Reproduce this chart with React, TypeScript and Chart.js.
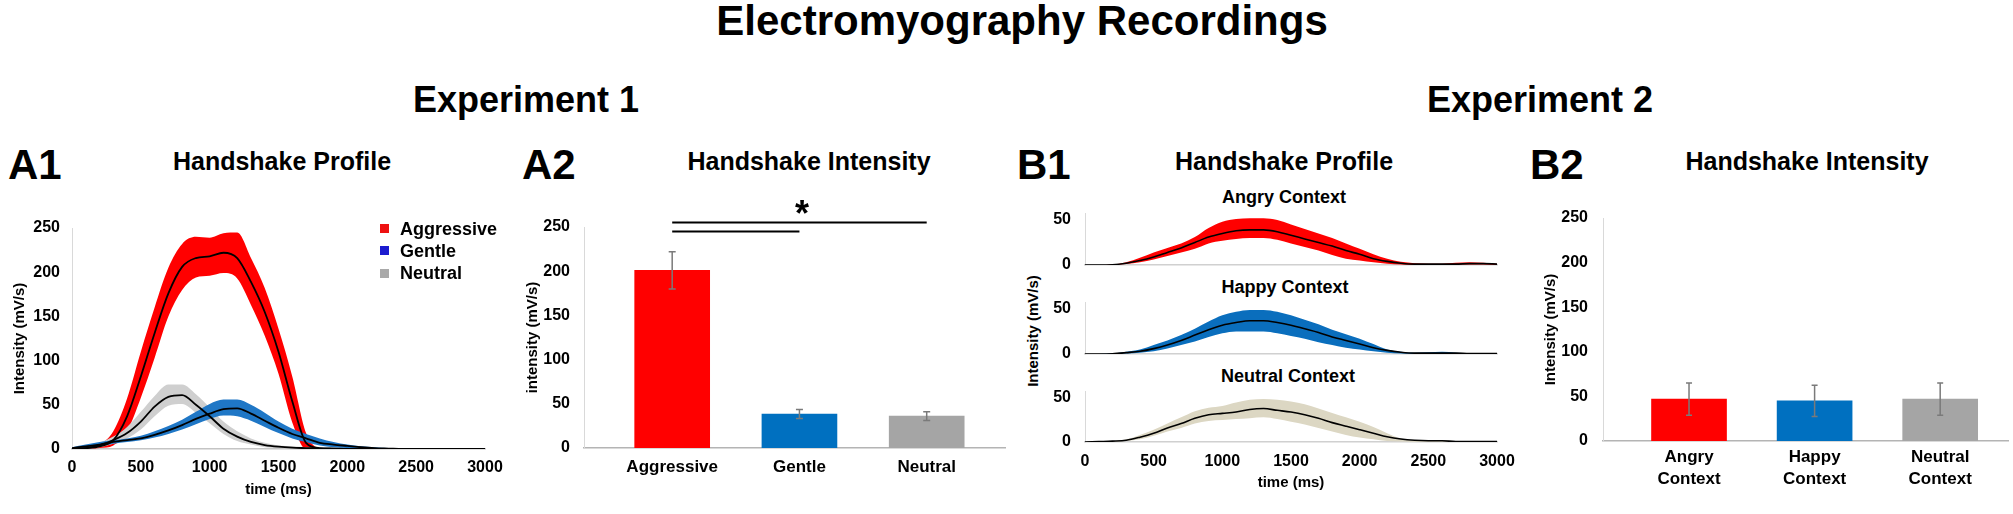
import React, { useEffect, useRef } from 'react';
import { Chart, registerables } from 'chart.js';

Chart.register(...registerables);

const FONT = '"Liberation Sans", Arial, Helvetica, sans-serif';
Chart.defaults.font.family = FONT;
Chart.defaults.color = '#000';

// ---------- DATA ----------
const TIME = [0, 100, 200, 300, 400, 500, 600, 700, 800, 900, 1000, 1100, 1200, 1300, 1400, 1500, 1600, 1700, 1800, 1900, 2000, 2100, 2200, 2300, 2400, 2500, 2600, 2700, 2800, 2900, 3000];
const TIME_TICKS = [0, 500, 1000, 1500, 2000, 2500, 3000];

// A1 – Experiment 1 handshake profile
const AGG_MEAN = [0, 1, 3, 10, 37, 82, 131, 176, 206, 216, 218, 222, 216, 189, 155, 110, 54, 7, 1, 0.5, 0, 0, 0, 0, 0, 0, 0, 0, 0, 0, 0];
const AGG_LOWER = [0, 0, 1, 4, 20, 58, 103, 150, 180, 194, 196, 199, 193, 163, 128, 85, 30, 0, 0, 0, 0, 0, 0, 0, 0, 0, 0, 0, 0, 0, 0];
const AGG_UPPER = [0, 2, 5, 20, 57, 110, 160, 205, 232, 240, 239, 244, 245, 216, 182, 136, 82, 18, 1, 0.5, 0, 0, 0, 0, 0, 0, 0, 0, 0, 0, 0];
const GEN_MEAN = [1, 3, 5, 8, 10, 12, 16, 21, 27, 34, 40, 45, 46, 40, 32, 24, 17, 12, 7, 5, 3.5, 2, 1, 0.5, 0, 0, 0, 0, 0, 0, 0];
const GEN_LOWER = [0, 1, 3, 6, 8, 10, 13, 17, 22, 28, 34, 38, 37, 32, 25, 18, 12, 8, 4, 2, 1, 0, 0, 0, 0, 0, 0, 0, 0, 0, 0];
const GEN_UPPER = [2, 5, 8, 10, 12, 15, 20, 26, 33, 42, 51, 56, 56, 50, 41, 31, 23, 17, 12, 8, 5, 3, 2, 1, 0, 0, 0, 0, 0, 0, 0];
const NEU_MEAN = [0, 1, 4, 10, 18, 31, 48, 59, 61, 50, 37, 23, 14, 8, 4.5, 2.6, 1.5, 1, 0.5, 0.3, 0, 0, 0, 0, 0, 0, 0, 0, 0, 0, 0];
const NEU_LOWER = [0, 0, 2, 6, 12, 22, 37, 49, 51, 41, 29, 17, 9, 5, 2, 1, 0, 0, 0, 0, 0, 0, 0, 0, 0, 0, 0, 0, 0, 0, 0];
const NEU_UPPER = [0, 2, 7, 14, 25, 42, 60, 73, 73, 62, 47, 31, 20, 12, 7, 4, 3, 2, 1, 0, 0, 0, 0, 0, 0, 0, 0, 0, 0, 0, 0];
const A1_LEGEND = ['Aggressive', 'Gentle', 'Neutral'];
const A1_LEGEND_COLORS = ['#ee1111', '#1c1ccf', '#a9a9a9'];

// A2 – Experiment 1 handshake intensity
const A2_CATEGORIES = ['Aggressive', 'Gentle', 'Neutral'];
const A2_VALUES = [201, 38.5, 36];
const A2_ERRORS = [21, 5, 5];
const A2_COLORS = ['#ff0000', '#0070c0', '#a5a5a5'];
const A2_SIG_PAIRS: [number, number, number][] = [[1, 3, 255], [1, 2, 245]];
const A2_STAR = { x: 2.02, y: 271.5, text: '*' };

// B1 – Experiment 2 handshake profile
const ANGRY_MEAN = [0, 0, 0.3, 2, 5, 9, 14, 19, 25, 31, 35, 38, 39, 39, 37, 33, 29, 25, 21, 16, 12, 7, 4, 2, 1, 1, 1, 1, 1.5, 1.5, 1];
const ANGRY_LOWER = [0, 0, 0, 1, 3, 6, 10, 14, 18, 24, 27, 29, 30, 30, 28, 24, 20, 16, 11, 7, 5, 3, 1.5, 0.5, 0, 0, 0, 0.5, 0.5, 0.5, 0];
const ANGRY_UPPER = [0, 0, 0.5, 3, 8, 14, 19, 24, 31, 41, 48, 51, 52, 52, 50, 45, 40, 35, 30, 24, 18, 12, 7, 3.5, 2, 1.5, 1.5, 2.5, 3, 2.5, 1.5];
const HAPPY_MEAN = [0, 0, 0.3, 1.5, 3, 6, 10, 15, 21, 27, 32, 35, 37, 37, 35, 32, 28, 24, 19, 15, 11, 7, 4, 2, 1, 1, 1, 1, 0.5, 0.5, 0.5];
const HAPPY_LOWER = [0, 0, 0, 0.5, 1.5, 3, 6, 10, 14, 19, 23, 25, 25, 25, 23, 20, 17, 13, 10, 7, 5, 3, 1.5, 0.5, 0, 0, 0, 0, 0, 0, 0];
const HAPPY_UPPER = [0, 0, 0.5, 2.5, 5, 10, 15, 21, 28, 36, 43, 47, 49, 49, 47, 43, 38, 33, 27, 22, 17, 11, 5, 2.5, 1.5, 2, 2.5, 1.5, 1, 1, 1];
const NEUTRAL_MEAN = [0, 0.5, 1, 2, 5.5, 10, 16, 21, 27, 31, 32.5, 34, 37, 38, 36, 34, 31, 27, 22, 18, 14, 10, 6, 3.4, 2, 1.5, 1.5, 0.5, 0.5, 0.5, 0.5];
const NEUTRAL_LOWER = [0, 0, 0, 1, 3, 7, 12, 16, 21, 24, 25, 26, 27, 28, 26, 23, 20, 16, 12, 8, 5, 3, 1, 0.5, 0, 0, 0, 0, 0, 0, 0];
const NEUTRAL_UPPER = [0, 1, 1, 3, 8, 14, 21, 28, 35, 39, 41, 45, 48, 49, 48, 46, 43, 38, 33, 28, 23, 17, 10, 4, 2, 2, 2, 1, 1, 1, 1];
const B1_TICKS = [0, 50];

// B2 – Experiment 2 handshake intensity
const B2_CATEGORIES = [['Angry', 'Context'], ['Happy', 'Context'], ['Neutral', 'Context']];
const B2_VALUES = [47, 45, 47];
const B2_ERRORS = [18, 17.5, 18];
const B2_COLORS = ['#ff0000', '#0070c0', '#a5a5a5'];

const INTENSITY_TICKS = [0, 50, 100, 150, 200, 250];

// ---------- helpers ----------
type Rect = { left: number; top: number; width: number; height: number };
type Area = { l: number; t: number; r: number; b: number };

const tickFont = { size: 16, weight: 'bold' as const, family: FONT };
const titleFont = { size: 15, weight: 'bold' as const, family: FONT };
const catFont = { size: 17, weight: 'bold' as const, family: FONT, lineHeight: 1.3 };

function geom(rect: Rect, area: Area) {
  return {
    padTop: area.t - rect.top,
    padRight: rect.left + rect.width - area.r,
    yWidth: area.l - rect.left,
    xHeight: rect.top + rect.height - area.b,
  };
}

const pts = (arr: number[]) => TIME.map((t, i) => ({ x: t, y: arr[i] }));

function bandSets(upper: number[], lower: number[], color: string, order: number) {
  return [
    { type: 'line', data: pts(upper), fill: '+1', backgroundColor: color, borderColor: 'rgba(0,0,0,0)', borderWidth: 0, pointRadius: 0, order, cubicInterpolationMode: 'monotone' },
    { type: 'line', data: pts(lower), fill: false, borderColor: 'rgba(0,0,0,0)', borderWidth: 0, pointRadius: 0, order, cubicInterpolationMode: 'monotone' },
  ];
}

function meanSet(mean: number[], width: number) {
  return { type: 'line', data: pts(mean), fill: false, borderColor: '#000', borderWidth: width, pointRadius: 0, order: 0, cubicInterpolationMode: 'monotone' };
}

function errorBarPlugin(values: number[], errors: number[], cap: number) {
  return {
    id: 'errorBars',
    afterDatasetsDraw(chart: any) {
      const { ctx, scales } = chart;
      const x = scales.x, y = scales.y;
      ctx.save();
      ctx.strokeStyle = '#7a7a7a';
      ctx.lineWidth = 1.5;
      values.forEach((v, i) => {
        const px = x.getPixelForValue(i + 1);
        const top = y.getPixelForValue(v + errors[i]);
        const bot = y.getPixelForValue(v - errors[i]);
        ctx.beginPath();
        ctx.moveTo(px, top); ctx.lineTo(px, bot);
        ctx.moveTo(px - cap, top); ctx.lineTo(px + cap, top);
        ctx.moveTo(px - cap, bot); ctx.lineTo(px + cap, bot);
        ctx.stroke();
      });
      ctx.restore();
    },
  };
}

const sigPlugin = {
  id: 'sig',
  afterDatasetsDraw(chart: any) {
    const { ctx, scales } = chart;
    const x = scales.x, y = scales.y;
    ctx.save();
    ctx.strokeStyle = '#000';
    ctx.lineWidth = 2;
    A2_SIG_PAIRS.forEach(([a, b, lvl]) => {
      const py = y.getPixelForValue(lvl);
      ctx.beginPath();
      ctx.moveTo(x.getPixelForValue(a), py);
      ctx.lineTo(x.getPixelForValue(b), py);
      ctx.stroke();
    });
    const size = 36;
    ctx.font = `bold ${size}px ${FONT}`;
    ctx.fillStyle = '#000';
    ctx.textAlign = 'center';
    ctx.textBaseline = 'middle';
    ctx.fillText(A2_STAR.text, x.getPixelForValue(A2_STAR.x), y.getPixelForValue(A2_STAR.y) + 0.22 * size);
    ctx.restore();
  },
};

function ChartCanvas({ rect, make }: { rect: Rect; make: () => any }) {
  const ref = useRef<HTMLCanvasElement | null>(null);
  useEffect(() => {
    const chart = new Chart(ref.current as HTMLCanvasElement, make());
    return () => chart.destroy();
  }, []);
  return (
    <canvas
      ref={ref}
      width={rect.width}
      height={rect.height}
      style={{ position: 'absolute', left: rect.left, top: rect.top, width: rect.width, height: rect.height }}
    />
  );
}

// ---------- chart configs ----------
const A1_RECT: Rect = { left: 0, top: 200, width: 520, height: 314 };
const A1_AREA: Area = { l: 72, t: 228, r: 485, b: 449 };

function makeA1() {
  const g = geom(A1_RECT, A1_AREA);
  return {
    type: 'line',
    data: {
      datasets: [
        meanSet(AGG_MEAN, 1.8),
        meanSet(GEN_MEAN, 1.8),
        meanSet(NEU_MEAN, 1.8),
        ...bandSets(GEN_UPPER, GEN_LOWER, '#1f77c6', 2),
        ...bandSets(NEU_UPPER, NEU_LOWER, '#cfcfcf', 3),
        ...bandSets(AGG_UPPER, AGG_LOWER, '#ff0000', 4),
      ],
    },
    options: {
      animation: false, responsive: false, maintainAspectRatio: false,
      layout: { padding: { top: g.padTop, right: g.padRight, left: 0, bottom: 0 } },
      plugins: { legend: { display: false }, tooltip: { enabled: false }, title: { display: false } },
      scales: {
        x: {
          type: 'linear', min: 0, max: 3000,
          afterBuildTicks: (ax: any) => { ax.ticks = TIME_TICKS.map((v) => ({ value: v })); },
          ticks: { font: tickFont, color: '#000', padding: 9, callback: (v: any) => String(v), maxRotation: 0 },
          grid: { display: false, drawTicks: false },
          border: { color: '#c4c4c4', width: 1.5 },
          title: { display: true, text: 'time (ms)', font: titleFont, color: '#000', padding: { top: 0, bottom: 15 } },
          afterFit: (s: any) => { s.height = g.xHeight; s.paddingLeft = 0; s.paddingRight = 0; },
        },
        y: {
          min: 0, max: 250,
          afterBuildTicks: (ax: any) => { ax.ticks = INTENSITY_TICKS.map((v) => ({ value: v })); },
          ticks: { font: tickFont, color: '#000', padding: 12 },
          grid: { display: false, drawTicks: false },
          border: { color: '#d9d9d9', width: 1 },
          title: { display: true, text: 'Intensity (mV/s)', font: titleFont, color: '#000', padding: { top: 11, bottom: 0 } },
          afterFit: (s: any) => { s.width = g.yWidth; s.paddingTop = 0; s.paddingBottom = 0; },
        },
      },
    },
  };
}

function makeBars(rect: Rect, area: Area, xMin: number, xMax: number, cats: any[], values: number[], errors: number[], colors: string[], yTitle: string, yTitlePad: number, yTickPad: number, catPad: number, cap: number, extra: any[]) {
  const g = geom(rect, area);
  return {
    type: 'bar',
    data: {
      datasets: [{
        data: values.map((v, i) => ({ x: i + 1, y: v })),
        backgroundColor: colors,
        borderWidth: 0,
        barThickness: 75,
      }],
    },
    options: {
      animation: false, responsive: false, maintainAspectRatio: false,
      layout: { padding: { top: g.padTop, right: g.padRight, left: 0, bottom: 0 } },
      plugins: { legend: { display: false }, tooltip: { enabled: false }, title: { display: false } },
      scales: {
        x: {
          type: 'linear', min: xMin, max: xMax, offset: false,
          afterBuildTicks: (ax: any) => { ax.ticks = cats.map((_, i) => ({ value: i + 1 })); },
          ticks: { font: catFont, color: '#000', padding: catPad, maxRotation: 0, autoSkip: false, callback: (v: any) => cats[Math.round(v) - 1] },
          grid: { display: false, drawTicks: false },
          border: { color: '#b4b4b4', width: 1.5 },
          afterFit: (s: any) => { s.height = g.xHeight; s.paddingLeft = 0; s.paddingRight = 0; },
        },
        y: {
          min: 0, max: 250,
          afterBuildTicks: (ax: any) => { ax.ticks = INTENSITY_TICKS.map((v) => ({ value: v })); },
          ticks: { font: tickFont, color: '#000', padding: yTickPad },
          grid: { display: false, drawTicks: false },
          border: { color: '#d9d9d9', width: 1 },
          title: { display: true, text: yTitle, font: titleFont, color: '#000', padding: { top: yTitlePad, bottom: 0 } },
          afterFit: (s: any) => { s.width = g.yWidth; s.paddingTop = 0; s.paddingBottom = 0; },
        },
      },
    },
    plugins: [errorBarPlugin(values, errors, cap), ...extra],
  };
}

const A2_RECT: Rect = { left: 500, top: 185, width: 525, height: 329 };
const A2_AREA: Area = { l: 584, t: 227, r: 1005.6, b: 448 };
const makeA2 = () => makeBars(A2_RECT, A2_AREA, 0.307, 3.62, A2_CATEGORIES, A2_VALUES, A2_ERRORS, A2_COLORS, 'intensity (mV/s)', 24, 14, 8, 3.5, [sigPlugin]);

const B2_RECT: Rect = { left: 1500, top: 185, width: 513, height: 329 };
const B2_AREA: Area = { l: 1603, t: 218, r: 2008, b: 441 };
const makeB2 = () => makeBars(B2_RECT, B2_AREA, 0.315, 3.54, B2_CATEGORIES, B2_VALUES, B2_ERRORS, B2_COLORS, 'Intensity (mV/s)', 42, 15, 5, 3, []);

function makeB1(rect: Rect, area: Area, upper: number[], lower: number[], mean: number[], color: string, showX: boolean) {
  const g = geom(rect, area);
  return {
    type: 'line',
    data: { datasets: [meanSet(mean, 1.6), ...bandSets(upper, lower, color, 2)] },
    options: {
      animation: false, responsive: false, maintainAspectRatio: false,
      layout: { padding: { top: g.padTop, right: g.padRight, left: 0, bottom: 0 } },
      plugins: { legend: { display: false }, tooltip: { enabled: false }, title: { display: false } },
      scales: {
        x: {
          type: 'linear', min: 0, max: 3000,
          afterBuildTicks: (ax: any) => { ax.ticks = TIME_TICKS.map((v) => ({ value: v })); },
          ticks: { display: showX, font: tickFont, color: '#000', padding: 10, callback: (v: any) => String(v), maxRotation: 0 },
          grid: { display: false, drawTicks: false },
          border: { color: '#d0d0d0', width: 1.5 },
          title: { display: showX, text: 'time (ms)', font: titleFont, color: '#000', padding: { top: 0, bottom: 22 } },
          afterFit: (s: any) => { s.height = g.xHeight; s.paddingLeft = 0; s.paddingRight = 0; },
        },
        y: {
          min: 0, max: 57,
          afterBuildTicks: (ax: any) => { ax.ticks = B1_TICKS.map((v) => ({ value: v })); },
          ticks: { font: tickFont, color: '#000', padding: 14 },
          grid: { display: false, drawTicks: false },
          border: { color: '#d9d9d9', width: 1 },
          afterFit: (s: any) => { s.width = g.yWidth; s.paddingTop = 0; s.paddingBottom = 0; },
        },
      },
    },
  };
}

const B1A_RECT: Rect = { left: 1000, top: 200, width: 520, height: 75 };
const B1A_AREA: Area = { l: 1085, t: 265 - 57 * 0.9, r: 1497, b: 265 };
const B1H_RECT: Rect = { left: 1000, top: 290, width: 520, height: 75 };
const B1H_AREA: Area = { l: 1085, t: 354 - 57 * 0.9, r: 1497, b: 354 };
const B1N_RECT: Rect = { left: 1000, top: 380, width: 520, height: 134 };
const B1N_AREA: Area = { l: 1085, t: 442 - 57 * 0.88, r: 1497, b: 442 };

// ---------- text ----------
function Txt({ x, y, size, children, align = 'center', rotate = 0 }: any) {
  const tx = align === 'center' ? '-50%' : '0';
  return (
    <div
      style={{
        position: 'absolute', left: x, top: y, fontSize: size, fontWeight: 'bold', lineHeight: 1,
        whiteSpace: 'nowrap', transform: `translate(${tx}, -50%)${rotate ? ` rotate(${rotate}deg)` : ''}`,
        transformOrigin: align === 'center' ? 'center' : 'left center',
      }}
    >
      {children}
    </div>
  );
}

export default function App() {
  return (
    <div
      style={{
        position: 'absolute', left: 0, top: 0, width: 2013, height: 514, background: '#fff',
        fontFamily: FONT, color: '#000', overflow: 'hidden',
      }}
    >
      <Txt x={1022} y={21} size={42}>Electromyography Recordings</Txt>
      <Txt x={526} y={100} size={36}>Experiment 1</Txt>
      <Txt x={1540} y={100} size={36}>Experiment 2</Txt>

      <Txt x={8} y={165} size={42} align="left">A1</Txt>
      <Txt x={522} y={165} size={42} align="left">A2</Txt>
      <Txt x={1017} y={165} size={42} align="left">B1</Txt>
      <Txt x={1530} y={165} size={42} align="left">B2</Txt>

      <Txt x={282} y={161} size={25}>Handshake Profile</Txt>
      <Txt x={809} y={161} size={25}>Handshake Intensity</Txt>
      <Txt x={1284} y={161} size={25}>Handshake Profile</Txt>
      <Txt x={1807} y={161} size={25}>Handshake Intensity</Txt>

      <Txt x={1284} y={197} size={18}>Angry Context</Txt>
      <Txt x={1285} y={287} size={18}>Happy Context</Txt>
      <Txt x={1288} y={376} size={18}>Neutral Context</Txt>
      <Txt x={1032} y={331} size={15} rotate={-90}>Intensity (mV/s)</Txt>

      <ChartCanvas rect={A1_RECT} make={makeA1} />
      <ChartCanvas rect={A2_RECT} make={makeA2} />
      <ChartCanvas rect={B1A_RECT} make={() => makeB1(B1A_RECT, B1A_AREA, ANGRY_UPPER, ANGRY_LOWER, ANGRY_MEAN, '#ff0000', false)} />
      <ChartCanvas rect={B1H_RECT} make={() => makeB1(B1H_RECT, B1H_AREA, HAPPY_UPPER, HAPPY_LOWER, HAPPY_MEAN, '#0a6ebd', false)} />
      <ChartCanvas rect={B1N_RECT} make={() => makeB1(B1N_RECT, B1N_AREA, NEUTRAL_UPPER, NEUTRAL_LOWER, NEUTRAL_MEAN, '#dcd7c3', true)} />
      <ChartCanvas rect={B2_RECT} make={makeB2} />

      {A1_LEGEND.map((name, i) => (
        <React.Fragment key={name}>
          <div style={{ position: 'absolute', left: 380, top: 224 + i * 22.3, width: 9, height: 9, background: A1_LEGEND_COLORS[i] }} />
          <Txt x={400} y={228.5 + i * 22.3} size={18} align="left">{name}</Txt>
        </React.Fragment>
      ))}
    </div>
  );
}
